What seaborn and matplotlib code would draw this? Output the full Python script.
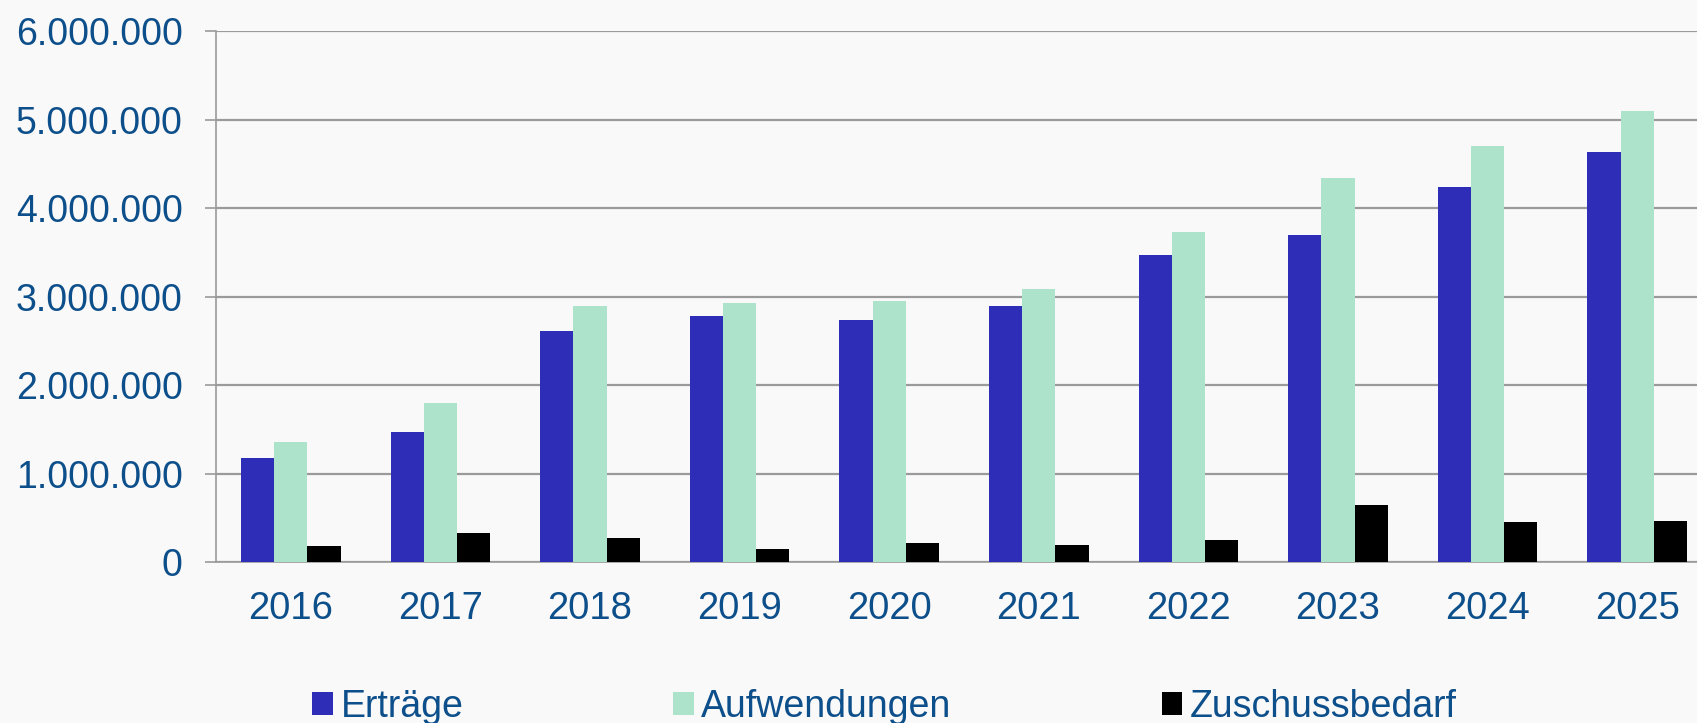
import pandas as pd
import seaborn as sns
import matplotlib.pyplot as plt
from matplotlib.patches import Patch
from matplotlib.ticker import FuncFormatter, FixedLocator

# Werte
years = ["2016", "2017", "2018", "2019", "2020", "2021", "2022", "2023", "2024", "2025"]
ertraege = [1174000, 1475000, 2612000, 2778000, 2740000, 2898000, 3474000, 3696000, 4238000, 4634000]
aufwendungen = [1359000, 1800000, 2891000, 2925000, 2954000, 3090000, 3730000, 4343000, 4701000, 5100000]
zuschuss = [184000, 327000, 278000, 147000, 214000, 192000, 252000, 647000, 452000, 463000]

series = ["Erträge", "Aufwendungen", "Zuschussbedarf"]
colors = ["#2e2db8", "#ade3cb", "#000000"]

BG = "#f9f9f9"
TXT = "#0d4f8b"
GRID = "#9a9a9a"

df = pd.DataFrame({
    "Jahr": years * 3,
    "Reihe": [series[0]] * 10 + [series[1]] * 10 + [series[2]] * 10,
    "Wert": ertraege + aufwendungen + zuschuss,
})

sns.set_theme(style="white")
plt.rcParams['font.family'] = ['Liberation Sans', 'DejaVu Sans']

W, H = 1697, 723
fig = plt.figure(figsize=(W / 100, H / 100), dpi=100, facecolor=BG)
# plot area runs past the right edge like in the original (cropped)
ax = fig.add_axes([216 / W, (H - 562.3) / H, 1496 / W, (562.3 - 31) / H])
ax.set_facecolor(BG)

sns.barplot(data=df, x="Jahr", y="Wert", hue="Reihe", hue_order=series,
            palette=colors, width=0.666, linewidth=0, saturation=1,
            legend=False, ax=ax, zorder=3)

ax.set_xlim(-0.5, 9.5)
ax.set_ylim(0, 6000000)
ax.set_yticks(range(0, 6000001, 1000000))
ax.yaxis.set_major_formatter(FuncFormatter(lambda v, p: f"{int(v):,}".replace(",", ".")))
ax.grid(axis="y", color=GRID, linewidth=1.6, zorder=0)
ax.set_axisbelow(True)

# ticks between categories, labels centered without ticks
ax.xaxis.set_minor_locator(FixedLocator([i - 0.5 for i in range(11)]))
ax.tick_params(axis="x", which="major", length=0, pad=21, labelsize=27.5, labelcolor=TXT)
ax.tick_params(axis="x", which="minor", length=8, width=1.2, color=GRID, direction="out")
ax.tick_params(axis="y", length=8, width=1.2, color=GRID, pad=16, labelsize=27,
               labelcolor=TXT, left=True)
ax.set_xlabel("")
ax.set_ylabel("")

for s in ["top", "right"]:
    ax.spines[s].set_visible(False)
for s in ["left", "bottom"]:
    ax.spines[s].set_color(GRID)
    ax.spines[s].set_linewidth(1.2)

handles = [Patch(facecolor=c, edgecolor="none", label=l) for c, l in zip(colors, series)]
leg = fig.legend(handles=handles, loc="center", bbox_to_anchor=(884.5 / W, 1 - 707 / H),
                 ncol=3, frameon=False, fontsize=27, handlelength=0.55, handleheight=0.55,
                 handletextpad=0.2, columnspacing=5.6, borderpad=0)
for t in leg.get_texts():
    t.set_color(TXT)

fig.savefig("out.png", dpi=100, facecolor=BG)
